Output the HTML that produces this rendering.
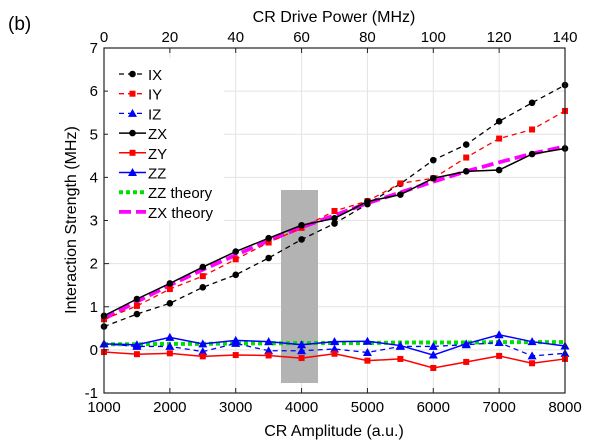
<!DOCTYPE html>
<html><head><meta charset="utf-8"><style>
html,body{margin:0;padding:0;background:#fff}
svg{display:block;font-family:"Liberation Sans",Arial,sans-serif}
</style></head><body>
<svg id="chart" width="601" height="443" viewBox="0 0 601 443">
<g id="grid"></g>
<rect id="band" x="281" y="190" width="37" height="193" fill="#b3b3b3"/>
<g id="series"></g>
<g id="axes"></g>
<g id="legend"></g>
<text x="8" y="30" font-size="19">(b)</text>
<text x="334" y="22" font-size="16" text-anchor="middle">CR Drive Power (MHz)</text>
<text x="334" y="436" font-size="16" text-anchor="middle">CR Amplitude (a.u.)</text>
<text transform="translate(76,220) rotate(-90)" font-size="16" text-anchor="middle">Interaction Strength (MHz)</text>
</svg>
<script>
const amps = [1000,1500,2000,2500,3000,3500,4000,4500,5000,5500,6000,6500,7000,7500,8000];
const IX = [0.54,0.83,1.08,1.45,1.74,2.13,2.56,2.93,3.38,3.85,4.40,4.76,5.30,5.73,6.14];
const IY = [0.71,1.02,1.41,1.71,2.10,2.49,2.83,3.22,3.45,3.86,3.98,4.46,4.90,5.11,5.54];
const IZ = [0.14,0.08,0.08,-0.04,0.15,-0.02,-0.02,0.02,-0.06,0.08,0.08,0.12,0.17,-0.14,-0.08];
const ZX = [0.79,1.18,1.54,1.92,2.28,2.59,2.89,3.05,3.44,3.60,3.98,4.14,4.17,4.54,4.67];
const ZY = [-0.05,-0.10,-0.08,-0.15,-0.12,-0.13,-0.19,-0.09,-0.25,-0.21,-0.42,-0.28,-0.14,-0.31,-0.21];
const ZZ = [0.14,0.12,0.29,0.14,0.22,0.19,0.12,0.19,0.20,0.10,-0.12,0.14,0.35,0.19,0.09];
const ZZtheory = [0.13,0.13,0.14,0.14,0.15,0.15,0.16,0.16,0.16,0.17,0.17,0.17,0.18,0.18,0.18];
const ZXtheory = [0.72,1.12,1.50,1.86,2.20,2.53,2.84,3.12,3.40,3.65,3.90,4.14,4.35,4.55,4.72];
const xTicks = [1000,2000,3000,4000,5000,6000,7000,8000];
const yTicks = [-1,0,1,2,3,4,5,6,7];
const topTicks = [0,20,40,60,80,100,120,140];
const X0=104,X1=565,Y0=393,Y1=48;
const xs=v=>X0+(v-1000)/7000*(X1-X0);
const ys=v=>Y0-(v+1)/8*(Y0-Y1);
const xt=v=>X0+v/140*(X1-X0);
const NS='http://www.w3.org/2000/svg';
function mk(tag,attrs,parent){const e=document.createElementNS(NS,tag);for(const k in attrs)e.setAttribute(k,attrs[k]);parent.appendChild(e);return e;}
const grid=document.getElementById('grid'),axes=document.getElementById('axes'),ser=document.getElementById('series'),leg=document.getElementById('legend');
xTicks.forEach(t=>{const l=mk('line',{x1:xs(t),x2:xs(t),y1:Y1,y2:Y0,stroke:'#e3e3e3'},grid);


const tx=mk('text',{x:xs(t),y:Y0+19,'font-size':15,'text-anchor':'middle'},axes);tx.textContent=t;


mk('line',{x1:xs(t),x2:xs(t),y1:Y0,y2:Y0-5,stroke:'#222'},axes);});
yTicks.forEach(t=>{const l=mk('line',{x1:X0,x2:X1,y1:ys(t),y2:ys(t),stroke:'#e3e3e3'},grid);


const tx=mk('text',{x:X0-6,y:ys(t)+5,'font-size':15,'text-anchor':'end'},axes);tx.textContent=t;


mk('line',{x1:X0,x2:X0+5,y1:ys(t),y2:ys(t),stroke:'#222'},axes);});
topTicks.forEach(t=>{const tx=mk('text',{x:xt(t),y:42,'font-size':15,'text-anchor':'middle'},axes);tx.textContent=t;


mk('line',{x1:xt(t),x2:xt(t),y1:Y1,y2:Y1+5,stroke:'#222'},axes);});
const fr=mk('rect',{x:X0,y:Y1,width:X1-X0,height:Y0-Y1,fill:'none',stroke:'#222','stroke-width':1.2},axes);


const defs=[
 {n:'IX',d:IX,c:'#000',dash:'5,4',m:'circle',w:1.3},
 {n:'IY',d:IY,c:'#f00',dash:'5,4',m:'square',w:1.3},
 {n:'IZ',d:IZ,c:'#00f',dash:'5,4',m:'tri',w:1.3},
 {n:'ZX',d:ZX,c:'#000',dash:'',m:'circle',w:1.5},
 {n:'ZY',d:ZY,c:'#f00',dash:'',m:'square',w:1.5},
 {n:'ZZ',d:ZZ,c:'#00f',dash:'',m:'tri',w:1.5},
 {n:'ZZ theory',d:ZZtheory,c:'#00e000',dash:'4,3',m:null,w:4},
 {n:'ZX theory',d:ZXtheory,c:'#f0f',dash:'12,5',m:null,w:3.8}];
function marker(m,x,y,c,p){
 if(m==='circle')return mk('circle',{cx:x,cy:y,r:3.3,fill:c},p);
 if(m==='square')return mk('rect',{x:x-3,y:y-3,width:6,height:6,fill:c},p);
 return mk('polygon',{points:`${x},${y-4.5} ${x-4.5},${y+3.5} ${x+4.5},${y+3.5}`,fill:c},p);}
const order=[6,7,0,1,2,3,4,5];
order.forEach(i=>{const s=defs[i];const g=mk('g',{},ser);


const pts=s.d.map((v,j)=>xs(amps[j])+','+ys(v)).join(' ');
mk('polyline',{points:pts,fill:'none',stroke:s.c,'stroke-width':s.w,'stroke-dasharray':s.dash},g);
if(s.m)s.d.forEach((v,j)=>{const e=marker(s.m,xs(amps[j]),ys(v),s.c,g);

});});
mk('rect',{x:108,y:58,width:116,height:164,fill:'#fff'},leg);
defs.forEach((s,i)=>{const y=74+i*19.7;const g=mk('g',{},leg);


mk('line',{x1:119,x2:146,y1:y,y2:y,stroke:s.c,'stroke-width':s.w,'stroke-dasharray':s.dash},g);
if(s.m)marker(s.m,132.5,y,s.c,g);
const t=mk('text',{x:148,y:y+6,'font-size':15},g);t.textContent=s.n;});
</script>
</body></html>
